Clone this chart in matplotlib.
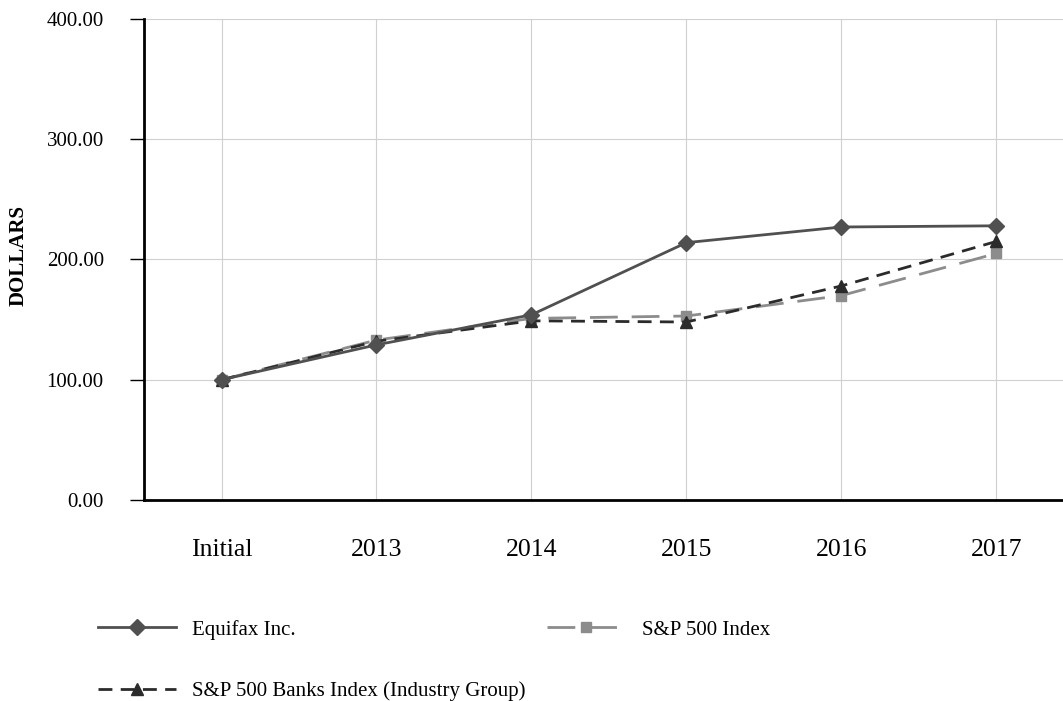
import matplotlib
matplotlib.use("Agg")
import matplotlib.pyplot as plt
from matplotlib.ticker import FormatStrFormatter

# --- dati ---
categorie = ["Initial", "2013", "2014", "2015", "2016", "2017"]
equifax = [100.0, 129.0, 154.0, 214.0, 227.0, 228.0]
sp500 = [100.0, 133.0, 151.0, 153.0, 170.0, 205.0]
sp500_banche = [100.0, 132.0, 149.0, 148.0, 178.0, 215.0]

plt.rcParams['font.family'] = ['Liberation Serif', 'DejaVu Serif']

fig = plt.figure(figsize=(10.63, 7.01), dpi=100)
ax = fig.add_axes([0.1355, 0.2867, 0.8645, 0.6863])

x = list(range(len(categorie)))

l_eq, = ax.plot(x, equifax, color='#505050', lw=2, marker='D', markersize=8,
                label='Equifax Inc.', zorder=4)
l_sp, = ax.plot(x, sp500, color='#8c8c8c', lw=2, marker='s', markersize=7,
                dashes=(10, 5), label='S&P 500 Index', zorder=3)
l_bk, = ax.plot(x, sp500_banche, color='#2b2b2b', lw=2, marker='^', markersize=8,
                dashes=(5, 3), label='S&P 500 Banks Index (Industry Group)', zorder=3)

ax.set_ylim(0, 400)
ax.set_xlim(-0.5, 5.43)
ax.set_yticks([0, 100, 200, 300, 400])
ax.yaxis.set_major_formatter(FormatStrFormatter('%.2f'))
ax.set_xticks(x)
ax.set_xticklabels(categorie, fontsize=18.5)
ax.tick_params(axis='y', labelsize=15, length=10, width=1, direction='out', pad=19)
ax.tick_params(axis='x', length=0, pad=28)

ax.grid(True, color='#d0d0d0', lw=0.8)
ax.set_axisbelow(True)

for s in ['top', 'right']:
    ax.spines[s].set_visible(False)
ax.spines['left'].set_linewidth(2)
ax.spines['bottom'].set_linewidth(2)

fig.text(19 / 1063, 1 - 255 / 701, "DOLLARS", rotation=90, fontsize=15,
         fontweight='bold', ha='center', va='center')

# legenda sotto il grafico, due colonne
fig.legend([l_eq, l_bk, l_sp],
           ['Equifax Inc.', 'S&P 500 Banks Index (Industry Group)', 'S&P 500 Index'],
           ncol=2, loc='upper left', bbox_to_anchor=(0.084, 0.128),
           frameon=False, fontsize=15, handlelength=3.75, handletextpad=0.8,
           labelspacing=2.0, columnspacing=1.0, borderaxespad=0)

plt.savefig("out.png", dpi=100)
